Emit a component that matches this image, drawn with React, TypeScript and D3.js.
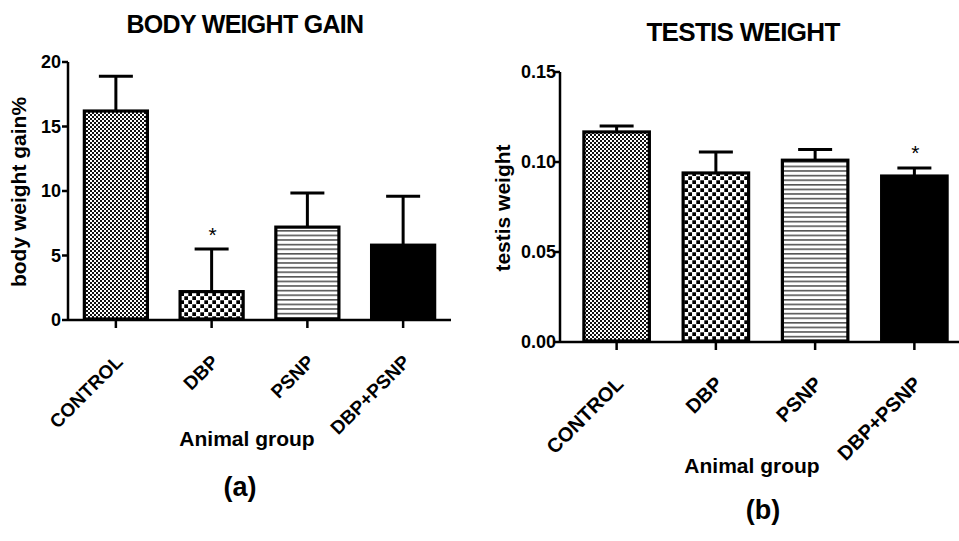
import React from "react";
import * as d3 from "d3";

const categories = ["CONTROL", "DBP", "PSNP", "DBP+PSNP"];
const bodyGainMean = [16.2, 2.2, 7.2, 5.8];
const bodyGainErr = [2.7, 3.3, 2.65, 3.8];
const bodyGainStars = ["", "*", "", ""];
const bodyTicks = [0, 5, 10, 15, 20];
const testisMean = [0.1167, 0.0939, 0.101, 0.0922];
const testisErr = [0.0033, 0.0116, 0.006, 0.0045];
const testisStars = ["", "", "", "*"];
const testisTicks = [0, 0.05, 0.1, 0.15];
const patterns = ["pFine", "pChecker", "pLines", "pSolid"];

const FONT = "'Liberation Sans', Arial, sans-serif";

type PanelProps = {
  title: string;
  yLabel: string;
  means: number[];
  errs: number[];
  stars: string[];
  ticks: number[];
  tickFmt: (v: number) => string;
  yMax: number;
  yTop: number;
  yBottom: number;
  axisX: number;
  bandRange: [number, number];
  axisEnd: number;
  tickFont: number;
  tickGap: number;
  catFont: number;
  titlePos: [number, number];
  titleSize: number;
  yLabelPos: [number, number];
  xLabelPos: [number, number];
  panelLabel: string;
  panelPos: [number, number];
};

function Panel(p: PanelProps) {
  const y = d3.scaleLinear().domain([0, p.yMax]).range([p.yBottom, p.yTop]);
  const x = d3
    .scaleBand<string>()
    .domain(categories)
    .range(p.bandRange)
    .paddingInner(0.31)
    .paddingOuter(0.155);
  const bw = x.bandwidth();
  const capW = 34;
  return (
    <g>
      <text x={p.titlePos[0]} y={p.titlePos[1]} textAnchor="middle" dominantBaseline="central"
        fontFamily={FONT} fontWeight="bold" fontSize={p.titleSize} letterSpacing={-0.7}>{p.title}</text>
      {categories.map((c, i) => {
        const cx = (x(c) as number) + bw / 2;
        const top = y(p.means[i]);
        const et = y(p.means[i] + p.errs[i]);
        return (
          <g key={c}>
            <line x1={cx} x2={cx} y1={top} y2={et} stroke="#000" strokeWidth={3} />
            <line x1={cx - capW / 2} x2={cx + capW / 2} y1={et} y2={et} stroke="#000" strokeWidth={3} />
            <rect x={(x(c) as number) + 1.5} y={top} width={bw - 3} height={p.yBottom - top - 1}
              fill={`url(#${patterns[i]})`} stroke="#000" strokeWidth={3.2} />
            {p.stars[i] ? (
              <text x={cx + 1} y={et - 15} textAnchor="middle" dominantBaseline="central"
                fontFamily={FONT} fontSize={21}>{p.stars[i]}</text>
            ) : null}
            <line x1={cx} x2={cx} y1={p.yBottom} y2={p.yBottom + 8} stroke="#000" strokeWidth={2.5} />
            <text transform={`translate(${cx + 8},${p.yBottom + 43}) rotate(-45)`} textAnchor="end"
              fontFamily={FONT} fontWeight="bold" fontSize={p.catFont}>{c}</text>
          </g>
        );
      })}
      <line x1={p.axisX} x2={p.axisX} y1={p.yTop} y2={p.yBottom + 1} stroke="#000" strokeWidth={2.5} />
      <line x1={p.axisX} x2={p.axisEnd} y1={p.yBottom} y2={p.yBottom} stroke="#000" strokeWidth={2.5} />
      {p.ticks.map((t) => (
        <g key={t}>
          <line x1={p.axisX - 6} x2={p.axisX} y1={y(t)} y2={y(t)} stroke="#000" strokeWidth={2.5} />
          <text x={p.axisX - p.tickGap} y={y(t)} textAnchor="end" dominantBaseline="central"
            fontFamily={FONT} fontWeight="bold" fontSize={p.tickFont}>{p.tickFmt(t)}</text>
        </g>
      ))}
      <text transform={`translate(${p.yLabelPos[0]},${p.yLabelPos[1]}) rotate(-90)`} textAnchor="middle"
        dominantBaseline="central" fontFamily={FONT} fontWeight="bold" fontSize={21}>{p.yLabel}</text>
      <text x={p.xLabelPos[0]} y={p.xLabelPos[1]} textAnchor="middle" dominantBaseline="central"
        fontFamily={FONT} fontWeight="bold" fontSize={21}>Animal group</text>
      <text x={p.panelPos[0]} y={p.panelPos[1]} textAnchor="middle" dominantBaseline="central"
        fontFamily={FONT} fontWeight="bold" fontSize={27}>{p.panelLabel}</text>
    </g>
  );
}

export default function App() {
  return (
    <svg width={959} height={541} style={{ position: "absolute", left: 0, top: 0, background: "#fff" }}>
      <defs>
        <pattern id="pFine" width={4} height={4} patternUnits="userSpaceOnUse">
          <rect width={4} height={4} fill="#fff" />
          <rect x={0} y={0} width={2} height={2} fill="#111" />
          <rect x={2} y={2} width={2} height={2} fill="#111" />
        </pattern>
        <pattern id="pChecker" width={8} height={8} patternUnits="userSpaceOnUse">
          <rect width={8} height={8} fill="#fff" />
          <rect x={0.3} y={0.3} width={3.7} height={3.7} fill="#000" />
          <rect x={4.3} y={4.3} width={3.7} height={3.7} fill="#000" />
        </pattern>
        <pattern id="pLines" width={5} height={4.6} patternUnits="userSpaceOnUse">
          <rect width={5} height={4.6} fill="#fff" />
          <rect x={0} y={0} width={5} height={1.6} fill="#555" />
        </pattern>
        <pattern id="pSolid" width={4} height={4} patternUnits="userSpaceOnUse">
          <rect width={4} height={4} fill="#000" />
        </pattern>
      </defs>
      <rect width={959} height={541} fill="#fff" />
      <Panel
        title="BODY WEIGHT GAIN"
        yLabel="body weight gain%"
        means={bodyGainMean}
        errs={bodyGainErr}
        stars={bodyGainStars}
        ticks={bodyTicks}
        tickFmt={(v) => String(v)}
        yMax={20}
        yTop={62}
        yBottom={320}
        axisX={68}
        bandRange={[68, 451]}
        axisEnd={451}
        tickFont={18}
        tickGap={7}
        catFont={19}
        titlePos={[245, 24]}
        titleSize={25}
        yLabelPos={[18, 192]}
        xLabelPos={[247, 438]}
        panelLabel="(a)"
        panelPos={[240, 487]}
      />
      <Panel
        title="TESTIS WEIGHT"
        yLabel="testis weight"
        means={testisMean}
        errs={testisErr}
        stars={testisStars}
        ticks={testisTicks}
        tickFmt={(v) => v.toFixed(2)}
        yMax={0.15}
        yTop={72}
        yBottom={342}
        axisX={560}
        bandRange={[567, 964]}
        axisEnd={959}
        tickFont={18}
        tickGap={4}
        catFont={20}
        titlePos={[743, 32]}
        titleSize={26}
        yLabelPos={[502, 208]}
        xLabelPos={[752, 465]}
        panelLabel="(b)"
        panelPos={[763, 510]}
      />
    </svg>
  );
}
